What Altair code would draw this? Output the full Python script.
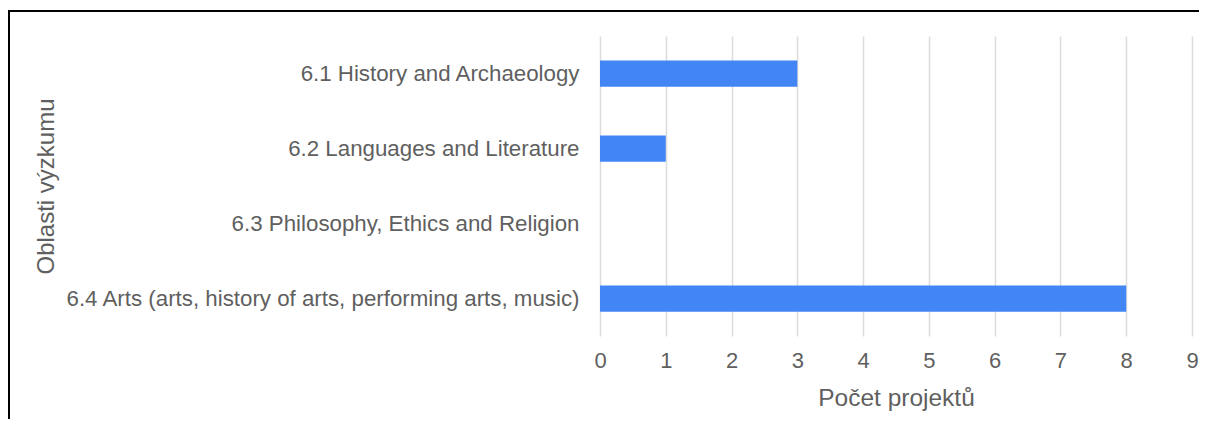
import altair as alt
import pandas as pd

categories = [
    "6.1 History and Archaeology",
    "6.2 Languages and Literature",
    "6.3 Philosophy, Ethics and Religion",
    "6.4 Arts (arts, history of arts, performing arts, music)",
]
values = [3, 1, 0, 8]
x_ticks = [0, 1, 2, 3, 4, 5, 6, 7, 8, 9]

df = pd.DataFrame({"oblast": categories, "pocet": values})

FONT = "Liberation Sans"
GREY = "#5f5f5f"

bars = alt.Chart(df).mark_bar(color="#4285F4").encode(
    y=alt.Y(
        "oblast:N",
        sort=categories,
        scale=alt.Scale(paddingInner=0.65, paddingOuter=0.325),
        axis=alt.Axis(
            title="Oblasti výzkumu",
            ticks=False,
            domain=False,
            grid=False,
            labelPadding=21,
            labelFontSize=22.3,
            labelColor=GREY,
            labelFont=FONT,
            labelLimit=700,
            titleFontSize=24,
            titleFont=FONT,
            titleFontWeight="normal",
            titleColor=GREY,
            titleX=-554,
            titleY=150,
            titleAngle=270,
            titleAlign="center",
            titleBaseline="middle",
        ),
    ),
    x=alt.X(
        "pocet:Q",
        scale=alt.Scale(domain=[0, 9], nice=False),
        axis=alt.Axis(
            title="Počet projektů",
            values=x_ticks,
            ticks=False,
            domain=False,
            grid=True,
            gridColor="#dcdcdc",
            gridWidth=1.5,
            labelFlush=False,
            labelPadding=14,
            labelFontSize=22,
            labelColor=GREY,
            labelFont=FONT,
            titleFontSize=24.5,
            titleFont=FONT,
            titleFontWeight="normal",
            titleColor=GREY,
            titleY=62,
            titleBaseline="middle",
        ),
    ),
)

# outer frame of the original figure
frame_left = alt.Chart(df).mark_rule(color="#000000", strokeWidth=2).encode(
    x=alt.value(-591), y=alt.value(-25), y2=alt.value(420)
)
frame_top = alt.Chart(df).mark_rule(color="#000000", strokeWidth=2).encode(
    x=alt.value(-592), x2=alt.value(700), y=alt.value(-25)
)

chart = (
    alt.layer(bars, frame_left, frame_top)
    .properties(
        width=592,
        height=300,
        autosize=alt.AutoSizeParams(type="none"),
        padding={"left": 592, "top": 28, "right": 7, "bottom": 83},
        background="white",
    )
    .configure_view(stroke=None)
)

chart.save("out.html", embed_options={"renderer": "svg", "actions": False})
